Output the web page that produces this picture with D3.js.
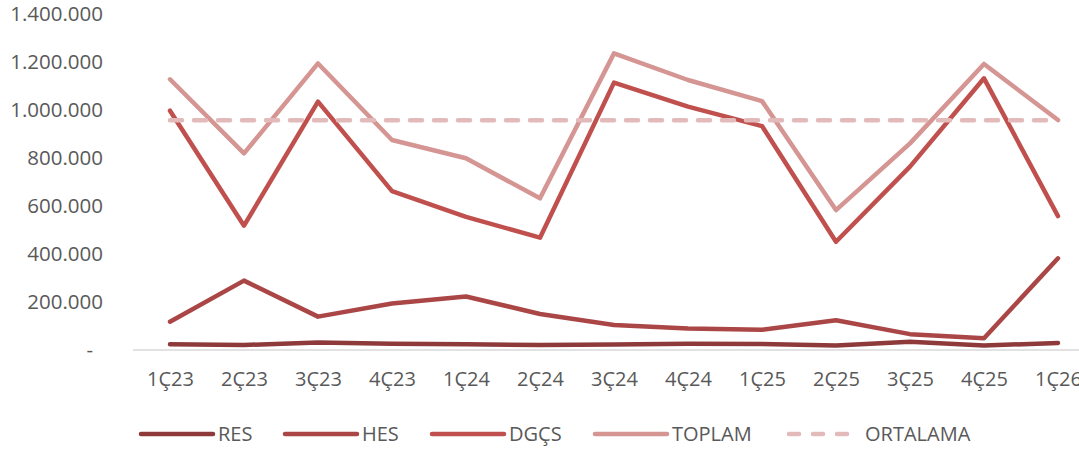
<!DOCTYPE html>
<html>
<head>
<meta charset="utf-8">
<script src="https://cdn.jsdelivr.net/npm/d3@7"></script>
<style>
  body { margin: 0; background: #fff; }
  text { font-family: "Open Sans", sans-serif; fill: #595959; }
</style>
</head>
<body>
<div id="linechart"></div>
<script>
// data
var quarters = ["1Ç23","2Ç23","3Ç23","4Ç23","1Ç24","2Ç24","3Ç24","4Ç24","1Ç25","2Ç25","3Ç25","4Ç25","1Ç26"];
var res      = [24000, 21000, 31000, 26000, 24000, 21000, 23000, 26000, 25000, 19000, 34000, 19000, 29000];
var hes      = [118000, 289000, 139000, 194000, 223000, 150000, 104000, 90000, 84000, 124000, 66000, 49000, 382000];
var dgcs     = [997000, 518000, 1035000, 662000, 555000, 468000, 1114000, 1014000, 933000, 451000, 764000, 1132000, 558000];
var toplam   = [1128000, 819000, 1194000, 875000, 799000, 632000, 1236000, 1125000, 1037000, 583000, 861000, 1192000, 958000];
var ortalama = [957000, 957000, 957000, 957000, 957000, 957000, 957000, 957000, 957000, 957000, 957000, 957000, 957000];
var yTicks   = [0, 200000, 400000, 600000, 800000, 1000000, 1200000, 1400000];

var series = [
    {name: "RES", values: res, color: "#8e3a3a", dash: null},
    {name: "HES", values: hes, color: "#aa4746", dash: null},
    {name: "DGÇS", values: dgcs, color: "#c0504d", dash: null},
    {name: "TOPLAM", values: toplam, color: "#d49593", dash: null},
    {name: "ORTALAMA", values: ortalama, color: "#e2bab9", dash: "12,12"}
];

function drawLineChart(){
    var width = 1079, height = 451;
    var left = 133, bottom = 350, top = 14;

    var svg = d3.select("#linechart").append("svg")
        .attr("width", width)
        .attr("height", height);

    // 13 categories, the last one runs past the right edge like the original
    var x = d3.scalePoint()
        .domain(quarters)
        .range([left, left + 74 * 13])
        .padding(0.5);
    var y = d3.scaleLinear()
        .domain([0, 1400000])
        .range([bottom, top]);

    var loc = d3.formatLocale({decimal: ",", thousands: ".", grouping: [3], currency: ["", ""]});
    var fmt = loc.format(",.0f");

    // y axis (labels only)
    var yAxis = svg.append("g")
        .attr("transform", "translate(103,0)")
        .call(d3.axisLeft(y).tickValues(yTicks).tickSize(0).tickPadding(0)
            .tickFormat(function(d) { return d === 0 ? "-" : fmt(d); }));
    yAxis.select(".domain").remove();
    yAxis.selectAll("text")
        .style("font-size", "20.5px")
        .attr("fill", "#595959")
        .attr("dx", function(d) { return d === 0 ? -10 : 0; });

    // x axis baseline + labels
    svg.append("line")
        .attr("x1", left).attr("x2", width)
        .attr("y1", y(0)).attr("y2", y(0))
        .attr("stroke", "#d9d9d9")
        .attr("stroke-width", 1.5);

    var xAxis = svg.append("g")
        .attr("transform", "translate(0," + bottom + ")")
        .call(d3.axisBottom(x).tickSize(0).tickPadding(22));
    xAxis.select(".domain").remove();
    xAxis.selectAll("text")
        .style("font-size", "20px")
        .attr("fill", "#595959");

    var line = d3.line()
        .x(function(d, i) { return x(quarters[i]); })
        .y(function(d) { return y(d); });

    series.forEach(function(s) {
        svg.append("path")
            .attr("fill", "none")
            .attr("stroke", s.color)
            .attr("stroke-width", 4.5)
            .attr("stroke-linejoin", "round")
            .attr("stroke-linecap", "round")
            .attr("stroke-dasharray", s.dash)
            .attr("d", line(s.values));
    });

    // legend
    var legX = [141, 285, 432, 595, 789];
    var legY = 434;
    series.forEach(function(s, i) {
        svg.append("line")
            .attr("x1", legX[i]).attr("x2", legX[i] + (s.dash ? 66 : 72))
            .attr("y1", legY).attr("y2", legY)
            .attr("stroke", s.color)
            .attr("stroke-width", 4.5)
            .attr("stroke-linecap", "round")
            .attr("stroke-dasharray", s.dash ? "10,14" : null);
        svg.append("text")
            .attr("x", legX[i] + (s.dash ? 76 : 77))
            .attr("y", legY)
            .attr("dy", "0.35em")
            .style("font-size", "20px")
            .text(s.name);
    });
}
drawLineChart();
</script>
</body>
</html>
